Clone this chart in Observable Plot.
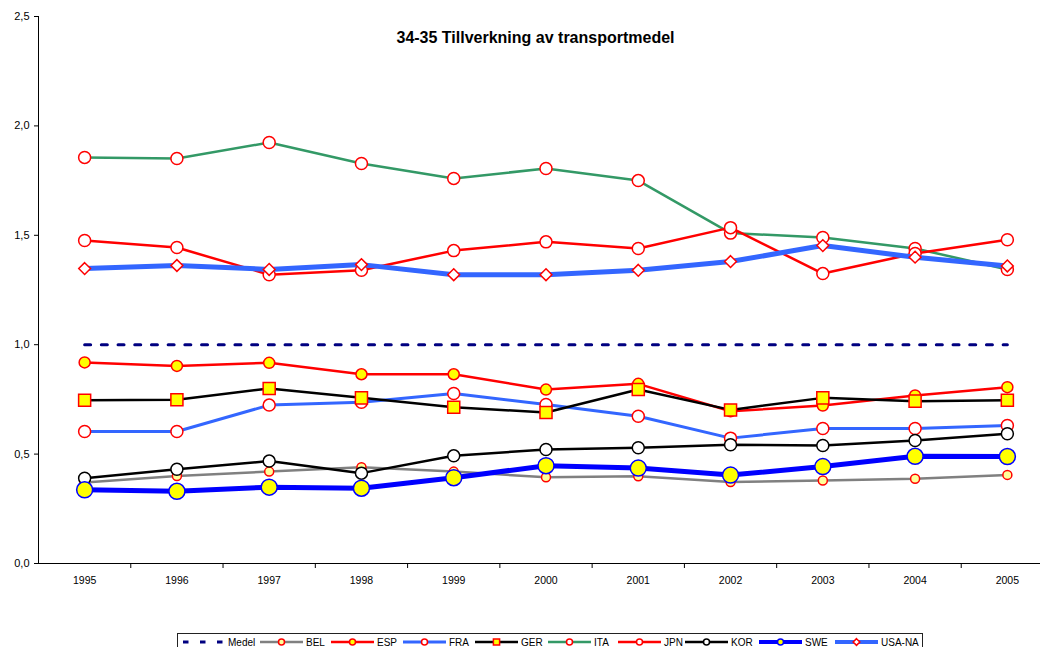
<!DOCTYPE html>
<html><head><meta charset="utf-8">
<script src="https://cdn.jsdelivr.net/npm/d3@7"></script>
<script src="https://cdn.jsdelivr.net/npm/@observablehq/plot@0.6"></script>
<style>
html,body{margin:0;padding:0;background:#fff;overflow:hidden;}
#chart{position:absolute;left:0;top:0;}
#legend{position:absolute;left:177px;top:633px;width:746px;height:22px;border:1px solid #222;box-sizing:border-box;font:10px "Liberation Sans",Arial,sans-serif;color:#000;}
.item{position:absolute;top:2px;display:flex;align-items:center;height:12px;white-space:nowrap;}
.item svg{margin-right:3px;display:block;}
</style></head><body>
<div id="chart"></div><div id="legend"></div>
<script>
const years = [1995, 1996, 1997, 1998, 1999, 2000, 2001, 2002, 2003, 2004, 2005];
const titleText = "34-35 Tillverkning av transportmedel";
const yTicks = [0, 0.5, 1.0, 1.5, 2.0, 2.5];
const xTickBoundaries = [1995.5, 1996.5, 1997.5, 1998.5, 1999.5, 2000.5, 2001.5, 2002.5, 2003.5, 2004.5];
const seriesNames = ["Medel", "BEL", "ESP", "FRA", "GER", "ITA", "JPN", "KOR", "SWE", "USA-NA"];

const medel = [1.0, 1.0, 1.0, 1.0, 1.0, 1.0, 1.0, 1.0, 1.0, 1.0, 1.0];
const bel   = [0.37, 0.40, 0.42, 0.44, 0.42, 0.394, 0.399, 0.372, 0.379, 0.387, 0.405];
const esp   = [0.919, 0.903, 0.917, 0.865, 0.865, 0.795, 0.821, 0.696, 0.722, 0.768, 0.806];
const fra   = [0.603, 0.603, 0.724, 0.737, 0.777, 0.727, 0.673, 0.573, 0.617, 0.617, 0.631];
const ger   = [0.746, 0.748, 0.80, 0.757, 0.714, 0.69, 0.795, 0.702, 0.757, 0.742, 0.746];
const ita   = [1.856, 1.851, 1.924, 1.828, 1.76, 1.805, 1.75, 1.51, 1.49, 1.44, 1.344];
const jpn   = [1.476, 1.444, 1.32, 1.34, 1.43, 1.47, 1.44, 1.535, 1.325, 1.417, 1.48];
const kor   = [0.39, 0.431, 0.468, 0.413, 0.492, 0.521, 0.529, 0.543, 0.539, 0.562, 0.593];
const swe   = [0.337, 0.33, 0.349, 0.344, 0.392, 0.447, 0.436, 0.404, 0.443, 0.49, 0.489];
const usana = [1.348, 1.362, 1.344, 1.366, 1.32, 1.32, 1.34, 1.38, 1.453, 1.40, 1.36];

const seriesValues = [medel, bel, esp, fra, ger, ita, jpn, kor, swe, usana];

// styles (kept separate from data)
const styles = {
  "Medel":  {stroke: "#000080", width: 3, dash: "6,10.7", symbol: null},
  "BEL":    {stroke: "#808080", width: 2.5, symbol: "circle", r: 4.5, fill: "#FFFF99", mstroke: "#FF0000", lr: 3},
  "ESP":    {stroke: "#FF0000", width: 2.5, symbol: "circle", r: 5.5, fill: "#FFFF00", mstroke: "#FF0000", lr: 3},
  "FRA":    {stroke: "#3366FF", width: 3, symbol: "circle", r: 6, fill: "#FFFFFF", mstroke: "#FF0000", lr: 3},
  "GER":    {stroke: "#000000", width: 2.5, symbol: "square", r: 6.8, fill: "#FFFF00", mstroke: "#FF0000", lr: 3.5},
  "ITA":    {stroke: "#339966", width: 2.5, symbol: "circle", r: 6, fill: "#FFFFFF", mstroke: "#FF0000", lr: 3},
  "JPN":    {stroke: "#FF0000", width: 2.5, symbol: "circle", r: 6, fill: "#FFFFFF", mstroke: "#FF0000", lr: 3},
  "KOR":    {stroke: "#000000", width: 2.5, symbol: "circle", r: 6, fill: "#FFFFFF", mstroke: "#000000", lr: 3},
  "SWE":    {stroke: "#0000FF", width: 5, symbol: "circle", r: 8, fill: "#FFFF00", mstroke: "#0000FF", lr: 3},
  "USA-NA": {stroke: "#3366FF", width: 5, symbol: "diamond2", r: 5.3, fill: "#FFFFFF", mstroke: "#FF0000", lr: 3}
};
// legend item left offsets inside the legend box (layout)
const legendOffsets = [4, 82, 153, 225, 297, 370, 440, 507, 581, 657];

const fmt = d => d.toFixed(1).replace(".", ",");
const marks = [];
marks.push(Plot.ruleY([0], {stroke: "#000", strokeWidth: 1}));
marks.push(Plot.ruleX([1994.5], {y1: 0, y2: 2.5, stroke: "#000", strokeWidth: 1}));
marks.push(Plot.axisY(yTicks, {tickSize: 4, tickPadding: 5, tickFormat: fmt, fontSize: 11, stroke: "#000", label: null}));
marks.push(Plot.axisX(xTickBoundaries, {tickSize: 5, tickFormat: () => "", stroke: "#000", label: null}));
marks.push(Plot.axisX(years, {tickSize: 0, tickPadding: 13, tickFormat: d => String(d), fontSize: 10.5, label: null}));

seriesNames.forEach((name, i) => {
  const st = styles[name];
  const data = years.map((yr, j) => ({year: yr, value: seriesValues[i][j]}));
  marks.push(Plot.line(data, {x: "year", y: "value", stroke: st.stroke, strokeWidth: st.width, strokeDasharray: st.dash || null, strokeLinejoin: "round"}));
  if (st.symbol) {
    marks.push(Plot.dot(data, {x: "year", y: "value", symbol: st.symbol, r: st.r, fill: st.fill, stroke: st.mstroke, strokeWidth: 1.5}));
  }
});

marks.push(Plot.text([titleText], {frameAnchor: "top", dy: 15, dx: -4, fontSize: 16, fontWeight: "bold", fill: "#000"}));

const chart = Plot.plot({
  width: 1040,
  height: 630,
  marginLeft: 38,
  marginRight: 0,
  marginTop: 16,
  marginBottom: 67,
  style: {fontFamily: "'Liberation Sans', Arial, sans-serif", background: "#fff", color: "#000"},
  x: {domain: [1994.5, 2005.5], range: [38, 1053], label: null},
  y: {domain: [0, 2.5], label: null},
  marks
});
document.getElementById("chart").appendChild(chart);

// legend
const legend = document.getElementById("legend");
const symbolPaths = {circle: d3.symbolCircle, square: d3.symbolSquare, diamond2: d3.symbolDiamond2};
seriesNames.forEach((name, i) => {
  const st = styles[name];
  const item = document.createElement("div");
  item.className = "item";
  item.style.left = legendOffsets[i] + "px";
  const w = 43, h = 12;
  let svg = `<svg width="${w}" height="${h}" viewBox="0 0 ${w} ${h}">`;
  if (st.dash) {
    svg += `<line x1="1" x2="${w}" y1="6" y2="6" stroke="${st.stroke}" stroke-width="3" stroke-dasharray="5.5,11.5"/>`;
  } else {
    svg += `<line x1="0" x2="${w}" y1="6" y2="6" stroke="${st.stroke}" stroke-width="${Math.min(st.width, 4)}"/>`;
    const p = d3.symbol(symbolPaths[st.symbol], Math.PI * st.lr * st.lr)();
    svg += `<path d="${p}" transform="translate(${w/2},6)" fill="${st.fill}" stroke="${st.mstroke}" stroke-width="1.5"/>`;
  }
  svg += `</svg>`;
  item.innerHTML = svg + `<span>${name}</span>`;
  legend.appendChild(item);
});
</script>
</body></html>
